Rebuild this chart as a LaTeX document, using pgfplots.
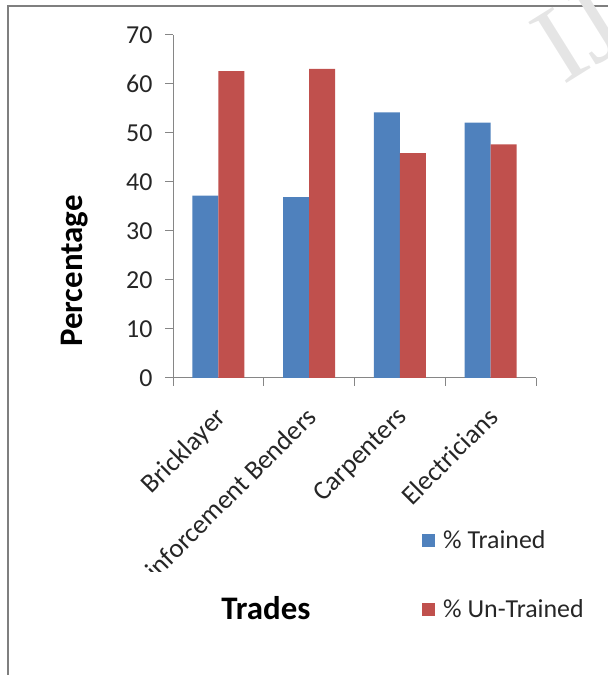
\documentclass[border=0pt]{standalone}
\usepackage{fontspec}
\setmainfont{Carlito}
\usepackage{pgfplots}
\pgfplotsset{compat=1.18}
\definecolor{trained}{HTML}{4F81BD}
\definecolor{untrained}{HTML}{C0504D}
\definecolor{axisgray}{HTML}{868686}
\definecolor{framegray}{HTML}{7F7F7F}

\begin{document}
\begin{tikzpicture}[x=1bp,y=1bp]
\useasboundingbox (0,0) rectangle (608,675);
% outer chart frame (only top and left edges show)
\draw[framegray, line width=1.5bp] (8,0) -- (8,669) -- (608,669);
% faint watermark
\node[rotate=32, text=black!10, font=\fontspec{Liberation Serif}\fontsize{110}{110}\selectfont] at (578,640) {IJ};
\begin{scope}
% the long tick label is cut at the lower left, as in the source
\clip (0,675) -- (608,675) -- (608,0) -- (215,0) -- (215,103) -- (0,103) -- cycle;
\begin{axis}[
    at={(173bp,297bp)}, anchor=south west,
    scale only axis, width=363bp, height=343bp,
    xmin=0, xmax=4, ymin=0, ymax=70,
    ytick={0,10,...,70},
    xtick={0,1,2,3,4}, xticklabels={},
    extra x ticks={0.5,1.5,2.5,3.5},
    extra x tick labels={Bricklayer,Reinforcement Benders,Carpenters,Electricians},
    extra x tick style={major tick length=0pt,
        tick label style={rotate=45, anchor=north east, xshift=-19bp, yshift=-13bp,
            font=\fontsize{27}{30}\selectfont}},
    axis x line*=bottom, axis y line*=left,
    axis line style={draw=axisgray, line width=1bp, -},
    tick style={draw=axisgray, line width=1bp},
    tick align=outside, major tick length=8bp,
    /pgf/number format/assume math mode=true,
    ticklabel style={font=\fontsize{26}{30}\selectfont, text=black!85},
    yticklabel style={xshift=-9bp},
    ybar=0pt, bar width=26bp,
    ylabel={Percentage}, xlabel={Trades},
    every axis y label/.style={at={(axis description cs:-0.270,0.312)},
        rotate=90, anchor=center, font=\bfseries\fontsize{33}{36}\selectfont},
    every axis x label/.style={at={(axis description cs:0.256,-0.671)},
        anchor=center, font=\bfseries\fontsize{33}{36}\selectfont},
    legend style={draw=none, fill=none, inner sep=0pt,
        at={(axis description cs:0.686,-0.574)}, anchor=west,
        row sep=46bp, font=\fontsize{26}{30}\selectfont,
        nodes={text=black!85}},
    legend cell align=left,
    legend image code/.code={\path[#1] (0bp,-6.5bp) rectangle (13bp,6.5bp);
        \path (19bp,0bp);},
]
\addplot[fill=trained, draw=none] coordinates {(0.5,37.2) (1.5,36.9) (2.5,54.2) (3.5,52.1)};
\addlegendentry{\% Trained}
\addplot[fill=untrained, draw=none] coordinates {(0.5,62.6) (1.5,63.1) (2.5,45.9) (3.5,47.7)};
\addlegendentry{\% Un-Trained}
\end{axis}
\end{scope}
\end{tikzpicture}
\end{document}
